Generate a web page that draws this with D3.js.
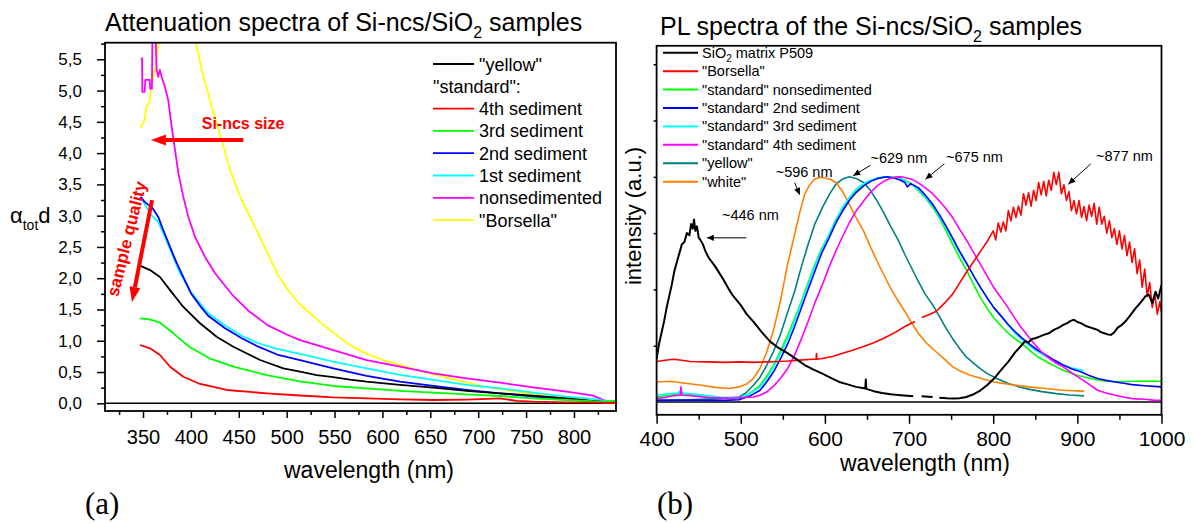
<!DOCTYPE html>
<html>
<head>
<meta charset="utf-8">
<script src="https://cdnjs.cloudflare.com/ajax/libs/d3/7.8.5/d3.min.js"></script>
<style>
body { margin: 0; background: #fff; }
text { font-family: 'Liberation Sans', Arial, Helvetica, sans-serif; }
</style>
</head>
<body>
<div id="canvas"></div>
<script>
var WIDTH = 1194
var HEIGHT = 523

// ---- panel (a): attenuation spectra, [wavelength nm, alpha_tot*d]
var attYellow = [[346.8, 2.20], [357.3, 2.13], [367.7, 2.02], [378.2, 1.81], [392.1, 1.54], [409.5, 1.28], [426.9, 1.065], [444.3, 0.905], [472.2, 0.692], [496.5, 0.56], [514, 0.506], [531.3, 0.452], [548.7, 0.42], [566, 0.38], [583.5, 0.346], [618.3, 0.293], [653.1, 0.25], [687.9, 0.2], [722.7, 0.16], [757.5, 0.122], [792.4, 0.08], [827, 0.027], [843, 0.005]]
var att4th = [[346.8, 0.932], [357.3, 0.879], [367.7, 0.772], [378.2, 0.585], [392.1, 0.425], [409.5, 0.309], [437.4, 0.213], [479, 0.16], [514, 0.125], [548.7, 0.096], [583.5, 0.08], [618.3, 0.064], [653.1, 0.053], [687.9, 0.06], [710, 0.07], [722.7, 0.08], [740, 0.04], [757.5, 0.027], [792.4, 0.016], [827, 0.01], [843, 0.005]]
var att3rd = [[346.8, 1.359], [357.3, 1.343], [367.7, 1.289], [381.7, 1.119], [398.2, 0.905], [419.4, 0.719], [444.3, 0.585], [479, 0.452], [513.9, 0.35], [548.7, 0.277], [583.5, 0.24], [618.3, 0.2], [653.1, 0.17], [687.9, 0.144], [722.7, 0.117], [757.5, 0.08], [792.4, 0.053], [827, 0.027], [843.5, 0.04]]
var att2nd = [[347.5, 3.30], [351.7, 3.22], [360, 3.12], [365.9, 2.98], [371.1, 2.77], [378.2, 2.50], [385.2, 2.24], [392, 2.02], [400, 1.76], [410, 1.55], [418, 1.40], [435.6, 1.20], [453.1, 1.04], [470.4, 0.905], [490, 0.78], [513.9, 0.692], [548.7, 0.56], [583.5, 0.437], [618.3, 0.346], [653.1, 0.277], [687.9, 0.213], [722.7, 0.16], [757.5, 0.107], [792.4, 0.064], [827, 0.027], [843, 0.02]]
var att1st = [[347.5, 3.30], [353.4, 3.14], [358.6, 3.01], [365.9, 2.90], [372.8, 2.66], [379.9, 2.40], [388.6, 2.08], [400, 1.78], [418, 1.44], [436, 1.24], [453, 1.08], [470.4, 0.96], [490, 0.87], [513.9, 0.79], [548.7, 0.666], [583.5, 0.56], [618.3, 0.453], [653.1, 0.373], [687.9, 0.293], [722.7, 0.24], [757.5, 0.17], [792.4, 0.107], [820, 0.07], [843, 0.01]]
var attNonsed = [[347.5, 5.515], [349, 5.515], [349.3, 4.98], [351.7, 4.98], [352.4, 5.17], [356.9, 5.17], [357.5, 5.03], [359.3, 5.03], [360, 6.2], [362.5, 6.2], [364.2, 5.33], [365.9, 5.22], [367.6, 5.33], [369.4, 5.22], [372.8, 5.06], [376.3, 4.85], [379.9, 4.42], [383.4, 4.05], [386.9, 3.68], [392.1, 3.30], [397.3, 2.98], [404.3, 2.66], [414.7, 2.34], [425.2, 2.08], [444, 1.72], [460, 1.48], [480, 1.25], [500, 1.10], [514, 1.01], [548.7, 0.85], [583.5, 0.69], [618.3, 0.586], [653.1, 0.48], [687.9, 0.40], [722.7, 0.33], [757.5, 0.256], [792.4, 0.186], [820, 0.122], [834, 0.03], [844, 0.03]]
var attBorsella = [[347.5, 4.41], [351.7, 4.53], [353.4, 4.74], [356.9, 4.82], [358.6, 5.06], [362.5, 5.33], [365.9, 5.70], [368, 6.0], [375, 6.6], [385, 6.9], [395, 6.6], [404, 5.85], [411.3, 5.33], [421.7, 4.74], [432.1, 4.21], [441, 3.72], [453, 3.25], [466, 2.85], [480, 2.40], [491, 2.05], [502, 1.80], [514, 1.58], [540, 1.23], [566, 0.93], [583.5, 0.79], [600.9, 0.692], [618.3, 0.61], [635.7, 0.533], [653.1, 0.465], [670.5, 0.40], [687.9, 0.333], [705.3, 0.266], [722.7, 0.225], [740.1, 0.186], [757.5, 0.146], [775, 0.107], [792.4, 0.075], [809.7, 0.043], [827, 0.02], [843, 0.0]]

var seriesA = [attYellow, att4th, att3rd, att2nd, att1st, attNonsed, attBorsella]
var colorsA = ['#000000', '#ff0000', '#00ff00', '#0000ff', '#00ffff', '#ff00ff', '#ffff00']
var labelsA = ['"yellow"', '4th sediment', '3rd sediment', '2nd sediment', '1st sediment', 'nonsedimented', '"Borsella"']
var ticksXA = [350, 400, 450, 500, 550, 600, 650, 700, 750, 800]
var minorXA = [325, 375, 425, 475, 525, 575, 625, 675, 725, 775, 825]
var ticksYA = [0, 0.5, 1, 1.5, 2, 2.5, 3, 3.5, 4, 4.5, 5, 5.5]
var minorYA = [0.25, 0.75, 1.25, 1.75, 2.25, 2.75, 3.25, 3.75, 4.25, 4.75, 5.25, 5.75]

// ---- panel (b): PL spectra, [wavelength nm, normalised intensity]
var plMatrix = [[400, 0.19], [403, 0.26], [406, 0.31], [409, 0.36], [412, 0.42], [415, 0.47], [418, 0.52], [421, 0.58], [424, 0.62], [427, 0.66], [430, 0.70], [433, 0.71], [436, 0.75], [439, 0.74], [441, 0.79], [443, 0.77], [444.5, 0.81], [446, 0.76], [448, 0.78], [450, 0.73], [452, 0.72], [455, 0.70], [458, 0.67], [462, 0.64], [466, 0.62], [470, 0.60], [475, 0.57], [480, 0.54], [486, 0.50], [490, 0.476], [500, 0.43], [507, 0.39], [515, 0.357], [525, 0.31], [535, 0.268], [545, 0.24], [556, 0.216], [566, 0.19], [576, 0.164], [586, 0.145], [597, 0.126], [607, 0.107], [617, 0.089], [627, 0.078], [637, 0.067], [648, 0.06], [648.6, 0.10], [649.2, 0.058], [658, 0.048], [668, 0.04], [678, 0.034], [690, 0.03], [705, 0.025], [706, null], [715, 0.025], [728, 0.022], [729, null], [736, 0.019], [745, 0.016], [752, 0.015], [760, 0.017], [768, 0.022], [776, 0.033], [785, 0.052], [793, 0.075], [801, 0.104], [809, 0.14], [818, 0.179], [826, 0.22], [834, 0.253], [838, 0.27], [842, 0.265], [846, 0.28], [850, 0.283], [855, 0.29], [860, 0.298], [866, 0.305], [872, 0.32], [878, 0.33], [883, 0.342], [888, 0.35], [892, 0.36], [896, 0.365], [900, 0.355], [904, 0.35], [908, 0.342], [912, 0.335], [916, 0.33], [920, 0.325], [924, 0.32], [928, 0.31], [932, 0.305], [936, 0.30], [940, 0.298], [944, 0.31], [948, 0.33], [952, 0.34], [957, 0.357], [962, 0.38], [966, 0.40], [970, 0.42], [973, 0.432], [977, 0.45], [981, 0.47], [985, 0.476], [989, 0.44], [993, 0.49], [996, 0.46], [1000, 0.52]]
var plBorsella = [[400, 0.18], [410, 0.185], [420, 0.19], [430, 0.185], [440, 0.18], [460, 0.178], [480, 0.176], [500, 0.178], [515, 0.176], [530, 0.178], [545, 0.18], [556, 0.182], [570, 0.186], [585, 0.19], [589.5, 0.19], [590, 0.215], [590.5, 0.19], [597, 0.193], [610, 0.203], [621, 0.216], [633, 0.23], [646, 0.246], [658, 0.263], [670, 0.283], [683, 0.308], [695, 0.335], [707, 0.357], [708, null], [715, 0.375], [722, 0.385], [732, 0.402], [744, 0.446], [752, 0.48], [760, 0.528], [768, 0.575], [777, 0.625], [785, 0.67], [793, 0.714], [800, 0.76], [803, 0.72], [806, 0.795], [809, 0.755], [812, 0.80], [815, 0.76], [818, 0.85], [821, 0.805], [824, 0.865], [827, 0.82], [830, 0.87], [833, 0.83], [836, 0.925], [839, 0.875], [842, 0.93], [845, 0.87], [848, 0.94], [851, 0.895], [854, 0.975], [857, 0.92], [860, 0.98], [863, 0.915], [866, 0.985], [869, 0.94], [872, 1.02], [875, 0.965], [878, 1.02], [881, 0.925], [884, 0.965], [887, 0.895], [890, 0.935], [893, 0.85], [896, 0.895], [899, 0.835], [902, 0.895], [905, 0.82], [908, 0.868], [911, 0.806], [914, 0.875], [917, 0.824], [920, 0.882], [923, 0.79], [926, 0.865], [929, 0.79], [932, 0.825], [935, 0.75], [938, 0.805], [941, 0.73], [944, 0.77], [947, 0.70], [950, 0.76], [953, 0.68], [956, 0.74], [959, 0.65], [962, 0.71], [965, 0.62], [968, 0.68], [971, 0.57], [974, 0.63], [977, 0.51], [980, 0.59], [983, 0.47], [986, 0.53], [989, 0.42], [992, 0.48], [995, 0.39], [998, 0.445], [1000, 0.40]]
var plNonsed = [[400, 0.022], [415, 0.03], [433, 0.037], [450, 0.03], [470, 0.02], [490, 0.015], [498, 0.015], [507, 0.03], [515, 0.05], [523, 0.074], [531, 0.115], [539, 0.164], [547, 0.225], [556, 0.298], [564, 0.37], [572, 0.446], [580, 0.53], [588, 0.61], [596, 0.68], [605, 0.744], [613, 0.81], [621, 0.863], [629, 0.905], [637, 0.938], [646, 0.965], [654, 0.982], [662, 0.993], [670, 1.0], [678, 1.0], [687, 0.997], [695, 0.985], [703, 0.967], [711, 0.94], [719, 0.908], [728, 0.865], [736, 0.818], [744, 0.76], [752, 0.699], [760, 0.64], [769, 0.58], [777, 0.52], [785, 0.461], [793, 0.415], [801, 0.372], [810, 0.335], [818, 0.305], [826, 0.28], [834, 0.26], [842, 0.234], [850, 0.208], [858, 0.19], [867, 0.171], [875, 0.156], [883, 0.141], [891, 0.13], [900, 0.119], [908, 0.111], [916, 0.104], [926, 0.097], [936, 0.092], [950, 0.09], [965, 0.092], [980, 0.092], [1000, 0.092]]
var pl2nd = [[400, 0.007], [440, 0.008], [480, 0.007], [498, 0.01], [510, 0.025], [523, 0.052], [531, 0.09], [539, 0.134], [547, 0.19], [556, 0.26], [564, 0.335], [572, 0.417], [580, 0.5], [588, 0.58], [596, 0.66], [605, 0.729], [613, 0.795], [621, 0.848], [629, 0.895], [637, 0.93], [646, 0.96], [654, 0.979], [662, 0.992], [670, 0.998], [674, 1.0], [682, 0.995], [690, 0.985], [695, 0.975], [698, 0.955], [702, 0.97], [711, 0.952], [719, 0.92], [728, 0.878], [736, 0.832], [744, 0.781], [752, 0.727], [760, 0.67], [769, 0.612], [777, 0.558], [785, 0.508], [793, 0.461], [801, 0.418], [810, 0.379], [818, 0.343], [826, 0.312], [834, 0.285], [842, 0.26], [852, 0.232], [863, 0.208], [873, 0.185], [883, 0.164], [893, 0.148], [904, 0.134], [914, 0.118], [924, 0.104], [934, 0.096], [945, 0.089], [955, 0.083], [965, 0.077], [980, 0.072], [1000, 0.067]]
var pl3rd = [[400, 0.03], [410, 0.035], [425, 0.04], [429, 0.05], [431, 0.04], [445, 0.035], [474, 0.022], [498, 0.018], [510, 0.035], [523, 0.067], [531, 0.105], [539, 0.156], [547, 0.215], [556, 0.283], [564, 0.36], [572, 0.439], [580, 0.52], [588, 0.603], [596, 0.675], [605, 0.744], [613, 0.807], [621, 0.863], [629, 0.908], [637, 0.945], [646, 0.97], [654, 0.985], [662, 0.995], [674, 1.0], [682, 0.997], [690, 0.99], [695, 0.982], [703, 0.966], [711, 0.945], [719, 0.912], [728, 0.871], [736, 0.825], [744, 0.774], [752, 0.718], [760, 0.662], [769, 0.61], [777, 0.558], [785, 0.508], [793, 0.461], [801, 0.418], [810, 0.379], [818, 0.34], [826, 0.305], [834, 0.278], [842, 0.253], [852, 0.226], [863, 0.201], [873, 0.182], [883, 0.164], [895, 0.15], [908, 0.14]]
var pl4th = [[400, 0.015], [410, 0.02], [420, 0.028], [428, 0.03], [429, 0.067], [430, 0.03], [440, 0.028], [460, 0.02], [482, 0.017], [498, 0.018], [515, 0.022], [523, 0.03], [531, 0.045], [539, 0.07], [547, 0.104], [556, 0.15], [564, 0.208], [572, 0.28], [580, 0.357], [588, 0.44], [597, 0.521], [605, 0.6], [613, 0.67], [621, 0.735], [629, 0.796], [637, 0.848], [646, 0.893], [654, 0.93], [662, 0.96], [670, 0.98], [678, 0.994], [686, 1.0], [691, 1.0], [697, 0.995], [703, 0.99], [711, 0.973], [719, 0.952], [728, 0.925], [736, 0.893], [744, 0.858], [752, 0.818], [760, 0.768], [769, 0.714], [777, 0.662], [785, 0.61], [793, 0.558], [801, 0.506], [810, 0.46], [818, 0.417], [826, 0.37], [834, 0.327], [842, 0.29], [850, 0.253], [858, 0.22], [867, 0.193], [875, 0.172], [883, 0.156], [893, 0.13], [904, 0.104], [914, 0.078], [924, 0.052], [934, 0.04], [945, 0.03], [955, 0.022], [965, 0.015], [980, 0.012], [990, 0.008], [1000, 0.007]]
var plYellow = [[400, 0.007], [440, 0.01], [474, 0.015], [498, 0.022], [506, 0.04], [515, 0.074], [523, 0.11], [531, 0.164], [539, 0.225], [547, 0.298], [555, 0.39], [564, 0.491], [572, 0.6], [580, 0.699], [588, 0.79], [597, 0.863], [605, 0.92], [613, 0.967], [621, 0.99], [629, 1.0], [637, 0.993], [646, 0.975], [654, 0.94], [662, 0.893], [670, 0.84], [678, 0.781], [687, 0.72], [695, 0.655], [703, 0.595], [711, 0.536], [719, 0.48], [728, 0.432], [736, 0.38], [744, 0.327], [752, 0.28], [760, 0.238], [768, 0.2], [777, 0.171], [785, 0.147], [793, 0.126], [805, 0.103], [818, 0.082], [830, 0.068], [842, 0.057], [858, 0.046], [875, 0.037], [891, 0.031], [908, 0.027]]
var plWhite = [[400, 0.089], [416, 0.092], [430, 0.085], [453, 0.074], [470, 0.065], [486, 0.06], [498, 0.067], [507, 0.08], [515, 0.104], [523, 0.15], [531, 0.223], [539, 0.32], [547, 0.446], [555, 0.6], [564, 0.744], [570, 0.84], [576, 0.923], [582, 0.965], [588, 0.99], [595, 0.998], [601, 0.994], [607, 0.988], [613, 0.975], [621, 0.935], [629, 0.878], [637, 0.82], [646, 0.759], [654, 0.69], [662, 0.625], [670, 0.565], [678, 0.506], [686, 0.455], [695, 0.402], [703, 0.352], [711, 0.305], [721, 0.26], [732, 0.223], [742, 0.19], [752, 0.156], [762, 0.135], [773, 0.119], [787, 0.103], [801, 0.089], [822, 0.077], [842, 0.067], [862, 0.06], [883, 0.052], [908, 0.048]]

var seriesB = [plMatrix, plBorsella, plNonsed, pl2nd, pl3rd, pl4th, plYellow, plWhite]
var colorsB = ['#000000', '#ff0000', '#00ff00', '#0000ff', '#00ffff', '#ff00ff', '#008080', '#ff8000']
var labelsB = ['SiO|2| matrix P509', '"Borsella"', '"standard" nonsedimented', '"standard" 2nd sediment', '"standard" 3rd sediment', '"standard" 4th sediment', '"yellow"', '"white"']
var drawOrderB = [6, 7, 2, 4, 3, 5, 1, 0]
var ticksXB = [400, 500, 600, 700, 800, 900, 1000]
var minorXB = [450, 550, 650, 750, 850, 950]
var ticksYB = [0.25, 0.5, 0.75, 1, 1.25, 1.5]

// peak annotations: label, text anchor [nm, a.u.], arrow from, arrow to
var peakLabels = ['~446 nm', '~596 nm', '~629 nm', '~675 nm', '~877 nm']
var peakText = [[477.7, 0.808], [541.5, 1.0], [654.1, 1.062], [744, 1.066], [922.2, 1.071]]
var peakFrom = [[506.7, 0.729], [564, 0.974], [654.1, 1.051], [742, 1.058], [916, 1.058]]
var peakTo = [[459.7, 0.729], [570.2, 0.920], [633.6, 1.005], [719.5, 0.989], [889.3, 0.967]]

var svg = d3.select('#canvas').append('svg')
  .attr('width', WIDTH)
  .attr('height', HEIGHT)
  .style('background', '#fff')

var defs = svg.append('defs')
defs.append('marker')
  .attr('id', 'head')
  .attr('viewBox', '0 0 10 10')
  .attr('refX', 10).attr('refY', 5)
  .attr('markerUnits', 'userSpaceOnUse')
  .attr('markerWidth', 8).attr('markerHeight', 7)
  .attr('orient', 'auto')
  .append('path').attr('d', 'M0,0.5L10,5L0,9.5Z').attr('fill', '#000')

var FONT = "'Liberation Sans', Arial, Helvetica, sans-serif"
var SERIF = "'Liberation Serif', 'DejaVu Serif', 'Times New Roman', serif"

var fatArrow = function (g, x1, y1, x2, y2) {
  var dx = x2 - x1
  var dy = y2 - y1
  var len = Math.sqrt(dx * dx + dy * dy)
  var ux = dx / len
  var uy = dy / len
  var bx = x2 - ux * 15
  var by = y2 - uy * 15
  g.append('line')
    .attr('x1', x1).attr('y1', y1).attr('x2', bx).attr('y2', by)
    .attr('stroke', '#ff0000').attr('stroke-width', 4)
  g.append('path')
    .attr('d', 'M' + x2 + ',' + y2 +
      'L' + (bx - uy * 5.5) + ',' + (by + ux * 5.5) +
      'L' + (bx + uy * 5.5) + ',' + (by - ux * 5.5) + 'Z')
    .attr('fill', '#ff0000')
}

var styleAxis = function (g, size) {
  g.attr('font-family', FONT).attr('font-size', size)
  g.select('.domain').remove()
  g.selectAll('.tick line').attr('stroke-width', 1.5)
  g.selectAll('.tick text').attr('fill', '#000')
}

// ================= panel (a)
var xA = d3.scaleLinear().domain([310.3, 843.9]).range([105, 616])
var yA = d3.scaleLinear().domain([-0.123, 5.765]).range([411, 42.7])

defs.append('clipPath').attr('id', 'clipA').append('rect')
  .attr('x', xA.range()[0]).attr('y', yA.range()[1])
  .attr('width', xA.range()[1] - xA.range()[0])
  .attr('height', yA.range()[0] - yA.range()[1])

var panelA = svg.append('g')

panelA.append('g').attr('transform', 'translate(0,' + yA.range()[0] + ')')
  .call(d3.axisBottom(xA).tickValues(ticksXA).tickSize(7).tickPadding(12).tickFormat(d3.format('d')))
  .call(styleAxis, 20)
panelA.append('g').attr('transform', 'translate(0,' + yA.range()[0] + ')')
  .call(d3.axisBottom(xA).tickValues(minorXA).tickSize(4).tickFormat(''))
  .call(styleAxis, 20)
panelA.append('g').attr('transform', 'translate(' + xA.range()[0] + ',0)')
  .call(d3.axisLeft(yA).tickValues(ticksYA).tickSize(8).tickPadding(15)
    .tickFormat(function (d) { return d.toFixed(1).replace('.', ',') }))
  .call(styleAxis, 17)
panelA.append('g').attr('transform', 'translate(' + xA.range()[0] + ',0)')
  .call(d3.axisLeft(yA).tickValues(minorYA).tickSize(4).tickFormat(''))
  .call(styleAxis, 17)

panelA.append('line')
  .attr('x1', xA.range()[0]).attr('x2', xA.range()[1])
  .attr('y1', yA(0)).attr('y2', yA(0))
  .attr('stroke', '#000').attr('stroke-width', 1.4)

var lineA = d3.line()
  .defined(function (d) { return d[1] !== null })
  .x(function (d) { return xA(d[0]) })
  .y(function (d) { return yA(d[1]) })

panelA.append('g').attr('clip-path', 'url(#clipA)')
  .selectAll('path')
  .data([6, 5, 4, 3, 0, 2, 1])
  .enter().append('path')
  .attr('d', function (i) { return lineA(seriesA[i]) })
  .attr('fill', 'none')
  .attr('stroke', function (i) { return colorsA[i] })
  .attr('stroke-width', 1.8)
  .attr('stroke-linejoin', 'round')

panelA.append('rect')
  .attr('x', xA.range()[0]).attr('y', yA.range()[1])
  .attr('width', xA.range()[1] - xA.range()[0])
  .attr('height', yA.range()[0] - yA.range()[1])
  .attr('fill', 'none').attr('stroke', '#000').attr('stroke-width', 1.8)

// legend (a)
var legA = panelA.append('g').attr('font-size', 18)
var rowsA = [0, 2, 3, 4, 5, 6, 7]
labelsA.forEach(function (lab, i) {
  var y = 64 + rowsA[i] * 22.3
  legA.append('line')
    .attr('x1', 433).attr('x2', 474).attr('y1', y).attr('y2', y)
    .attr('stroke', colorsA[i]).attr('stroke-width', 1.8)
  legA.append('text').attr('x', 479).attr('y', y + 6.5).text(lab)
})
legA.append('text').attr('x', 433).attr('y', 64 + 22.3 + 6.5).text('"standard":')

// annotations (a)
fatArrow(panelA, xA(454.7), yA(4.21), xA(358.3), yA(4.21))
panelA.append('text')
  .attr('x', xA(411.3)).attr('y', yA(4.38))
  .attr('font-size', 16).attr('font-weight', 'bold').attr('fill', '#ff0000')
  .text('Si-ncs size')
fatArrow(panelA, xA(359.4), yA(3.25), xA(338.5), yA(1.62))
panelA.append('text')
  .attr('transform', 'translate(127,239) rotate(-76)')
  .attr('text-anchor', 'middle').attr('dominant-baseline', 'central')
  .attr('font-size', 17).attr('font-weight', 'bold').attr('fill', '#ff0000')
  .text('sample quality')

// titles and axis labels (a)
var tA = panelA.append('text').attr('x', 105).attr('y', 31).attr('font-size', 25)
tA.append('tspan').text('Attenuation spectra of Si-ncs/SiO')
tA.append('tspan').attr('font-size', 16).attr('dy', 7).text('2')
tA.append('tspan').attr('dy', -7).text(' samples')

panelA.append('text').attr('x', 369).attr('y', 478)
  .attr('text-anchor', 'middle').attr('font-size', 23)
  .text('wavelength (nm)')

var yl = panelA.append('text').attr('x', 10).attr('y', 223).attr('font-size', 22)
yl.append('tspan').text('α')
yl.append('tspan').attr('font-size', 14).attr('dy', 7).text('tot')
yl.append('tspan').attr('dy', -7).text('d')

svg.append('text').attr('x', 85).attr('y', 514)
  .style('font-family', SERIF)
  .attr('font-size', 31).text('(a)')

// ================= panel (b)
var xB = d3.scaleLinear().domain([400, 1000]).range([656.6, 1161.5])
var yB = d3.scaleLinear().domain([-0.057, 1.582]).range([414.8, 45.8])

defs.append('clipPath').attr('id', 'clipB').append('rect')
  .attr('x', xB.range()[0]).attr('y', yB.range()[1])
  .attr('width', xB.range()[1] - xB.range()[0])
  .attr('height', yB.range()[0] - yB.range()[1])

var panelB = svg.append('g')

panelB.append('g').attr('transform', 'translate(0,' + yB.range()[0] + ')')
  .call(d3.axisBottom(xB).tickValues(ticksXB).tickSize(9).tickPadding(7).tickFormat(d3.format('d')))
  .call(styleAxis, 21)
panelB.append('g').attr('transform', 'translate(0,' + yB.range()[0] + ')')
  .call(d3.axisBottom(xB).tickValues(minorXB).tickSize(5).tickFormat(''))
  .call(styleAxis, 21)
panelB.append('g').attr('transform', 'translate(' + xB.range()[0] + ',0)')
  .call(d3.axisLeft(yB).tickValues(ticksYB).tickSize(3).tickFormat(''))
  .call(styleAxis, 12)

panelB.append('line')
  .attr('x1', xB.range()[0]).attr('x2', xB.range()[1])
  .attr('y1', yB(0)).attr('y2', yB(0))
  .attr('stroke', '#000').attr('stroke-width', 1.4)

var lineB = d3.line()
  .defined(function (d) { return d[1] !== null })
  .x(function (d) { return xB(d[0]) })
  .y(function (d) { return yB(d[1]) })

panelB.append('g').attr('clip-path', 'url(#clipB)')
  .selectAll('path')
  .data(drawOrderB)
  .enter().append('path')
  .attr('d', function (i) { return lineB(seriesB[i]) })
  .attr('fill', 'none')
  .attr('stroke', function (i) { return colorsB[i] })
  .attr('stroke-width', function (i) { return i === 0 ? 2 : 1.6 })
  .attr('stroke-linejoin', 'round')

panelB.append('rect')
  .attr('x', xB.range()[0]).attr('y', yB.range()[1])
  .attr('width', xB.range()[1] - xB.range()[0])
  .attr('height', yB.range()[0] - yB.range()[1])
  .attr('fill', 'none').attr('stroke', '#000').attr('stroke-width', 1.8)

// legend (b)
var legB = panelB.append('g').attr('font-size', 14.5)
labelsB.forEach(function (lab, i) {
  var y = 52.7 + i * 18.43
  legB.append('line')
    .attr('x1', 663).attr('x2', 698).attr('y1', y).attr('y2', y)
    .attr('stroke', colorsB[i]).attr('stroke-width', 2)
  var t = legB.append('text').attr('x', 702).attr('y', y + 5)
  var parts = lab.split('|')
  t.append('tspan').text(parts[0])
  if (parts.length > 1) {
    t.append('tspan').attr('font-size', 10).attr('dy', 4).text(parts[1])
    t.append('tspan').attr('dy', -4).text(parts[2])
  }
})

// peak annotations (b)
peakLabels.forEach(function (lab, i) {
  panelB.append('text')
    .attr('x', xB(peakText[i][0])).attr('y', yB(peakText[i][1]))
    .attr('font-size', 14.5).text(lab)
  panelB.append('line')
    .attr('x1', xB(peakFrom[i][0])).attr('y1', yB(peakFrom[i][1]))
    .attr('x2', xB(peakTo[i][0])).attr('y2', yB(peakTo[i][1]))
    .attr('stroke', '#000').attr('stroke-width', 1)
    .attr('marker-end', 'url(#head)')
})

var tB = panelB.append('text').attr('x', 660).attr('y', 35).attr('font-size', 25)
tB.append('tspan').text('PL spectra of the Si-ncs/SiO')
tB.append('tspan').attr('font-size', 16).attr('dy', 7).text('2')
tB.append('tspan').attr('dy', -7).text(' samples')

panelB.append('text').attr('x', 925).attr('y', 471)
  .attr('text-anchor', 'middle').attr('font-size', 23)
  .text('wavelength (nm)')

panelB.append('text')
  .attr('transform', 'translate(641,216) rotate(-90)')
  .attr('text-anchor', 'middle').attr('font-size', 22)
  .text('intensity (a.u.)')

svg.append('text').attr('x', 657).attr('y', 514)
  .style('font-family', SERIF)
  .attr('font-size', 31).text('(b)')
</script>
</body>
</html>
